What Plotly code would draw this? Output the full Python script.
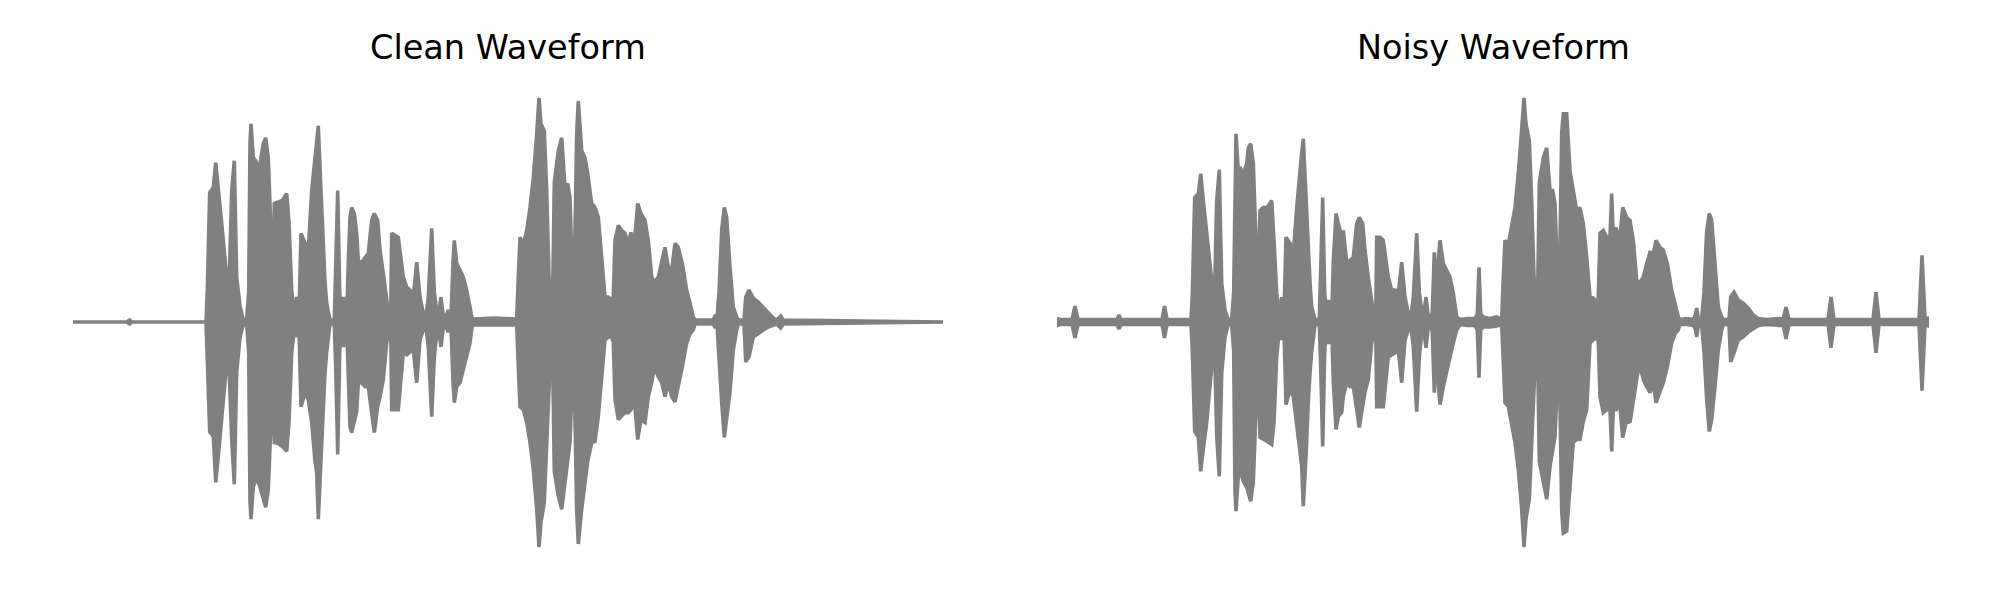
import plotly.graph_objects as go

# ---- Clean waveform envelope (time in frames, amplitude in arbitrary units) ----
clean_t = [0, 54, 56.5, 59, 133, 134.3, 136.7, 140.3, 142.7, 145.3, 148.7, 153.7, 155.3, 156.3, 158.7,
           161.3, 163.7, 167, 170.3, 173.7, 175.7, 177, 178, 180.3, 182.7, 184.7, 187, 190.3, 192.7,
           195.3, 198, 200, 201.3, 205.3, 209.3, 213.7, 216, 218.7, 221.3, 223.7, 226, 228, 232,
           235.3, 238.7, 242, 243.7, 245.3, 248, 250.3, 252, 253.7, 255.3, 257, 261.3, 262.7, 264.7,
           266.7, 268, 270.3, 273.7, 275.3, 277, 278.7, 281.3, 283.7, 285.3, 288.7, 292, 295.3, 298.7,
           301.3, 304.7, 307, 310.3, 313.7, 316, 317.7, 318.7, 322, 325.3, 330.3, 333.7, 337, 340.3,
           343.7, 347, 350.3, 352.7, 355.3, 358.7, 361.3, 363.7, 366, 368, 370.3, 372, 375.3, 378,
           380, 381.3, 383.7, 387, 390.3, 393.7, 397, 399.3, 422, 443.7, 445.3, 447, 450.3, 453.7,
           457, 460.3, 463.7, 466, 468, 471.3, 473.7, 476, 478, 479.3, 481.3, 483, 485.3, 488.7,
           492, 494.7, 497, 499.3, 501, 503.7, 505.3, 508.7, 512, 514.7, 518.7, 522, 525.3, 528.7,
           532, 535.3, 538.7, 540.3, 542, 545.3, 548.7, 552, 555.3, 558, 561.3, 564.7, 568, 572,
           575.3, 578.7, 581.3, 585.3, 588.7, 592, 595.3, 598.7, 602, 605.3, 609.3, 613.7, 617,
           620.3, 622, 640.3, 642.3, 644, 646, 648.7, 651.3, 653.7, 657, 660.3, 663.7, 665.3, 671,
           672.7, 676, 680.3, 685.3, 690.3, 695.3, 700.3, 703.7, 707.7, 710.3, 870]
clean_up = [0, 0, 2, 0, 0, 32, 130, 135, 160, 129, 99, 45, 22, 45, 132,
            162, 45, 16, 2, 3, 30, 180, 199, 165, 162, 155, 159, 179, 185,
            165, 92, 32, 119, 121, 122, 129, 100, 32, 7, 25, 8, 89, 79,
            72, 132, 165, 180, 197, 132, 65, 40, 19, 8, 2, 2, 45, 132,
            30, 10, 25, 5, 60, 105, 115, 109, 89, 62, 60, 65, 69, 102,
            109, 102, 72, 49, 19, 5, 5, 89, 87, 85, 45, 35, 32, 25,
            60, 25, 9, 3, 25, 94, 30, 12, 10, 25, 5, 3, 12, 5,
            60, 82, 59, 52, 45, 32, 15, 3, 4, 3, 45, 85, 78, 92,
            115, 145, 189, 225, 199, 192, 132, 45, 10, 5, 140, 155, 172, 185,
            135, 139, 125, 50, 35, 190, 222, 172, 165, 149, 119, 115, 105, 65,
            25, 25, 22, 25, 82, 97, 92, 89, 79, 90, 79, 119, 109, 102,
            82, 45, 40, 45, 59, 75, 55, 52, 79, 75, 59, 32, 19,
            5, 2, 2, 7, 3, 30, 92, 115, 105, 55, 15, 5, 2, 2,
            25, 32, 24, 20, 15, 9, 4, 2, 6, 2, 0]
clean_down = [0, 0, 2, 0, 0, 35, 110, 115, 161, 135, 101, 41, 25, 40, 118,
              163, 50, 16, 2, 3, 30, 180, 198, 165, 160, 158, 168, 178, 186,
              168, 101, 40, 121, 122, 125, 130, 100, 31, 7, 15, 8, 85, 71,
              78, 101, 140, 151, 198, 135, 85, 51, 30, 15, 2, 2, 45, 133,
              30, 10, 25, 5, 60, 105, 111, 100, 90, 61, 61, 65, 65, 88,
              111, 85, 75, 58, 21, 8, 5, 88, 88, 88, 31, 33, 30, 28,
              61, 18, 8, 3, 25, 95, 35, 12, 10, 25, 5, 3, 10, 5,
              60, 81, 65, 61, 48, 35, 21, 3, 3, 3, 45, 85, 88, 101,
              121, 148, 188, 226, 201, 181, 135, 68, 20, 15, 150, 158, 175, 188,
              155, 140, 121, 60, 40, 190, 223, 188, 161, 140, 121, 120, 95, 61,
              18, 15, 15, 20, 78, 98, 95, 91, 91, 88, 78, 118, 98, 101,
              75, 61, 45, 55, 61, 75, 61, 75, 80, 65, 45, 21, 12,
              8, 2, 2, 6, 3, 30, 81, 116, 100, 70, 28, 8, 2, 2,
              40, 35, 15, 12, 8, 5, 3, 2, 6, 2, 0]

# ---- Noisy waveform envelope ----
noisy_t = [0, 3, 15, 18, 21, 60, 62, 64, 105, 107.5, 110, 134, 135.3, 137.7, 141.3, 143.7, 146.3,
           149.7, 154.7, 156.3, 157.7, 159.7, 162.3, 164.7, 168, 171.3, 174.7, 176.7, 178, 179,
           181.3, 183.7, 186.3, 189.7, 191.3, 193.7, 196.3, 199, 201, 203, 206.3, 210.3, 214.7, 217,
           219.7, 222.3, 224.7, 227, 229, 233, 236.3, 239.7, 243, 244.7, 246.3, 249, 251.3, 253,
           254.7, 256.3, 258, 262.3, 263.7, 265.7, 267.7, 269, 271.3, 274.7, 276.3, 279, 281.3,
           284.7, 286.3, 289.7, 293, 296.3, 299.7, 302.3, 305.7, 308, 311.3, 314.7, 317, 318.7,
           319.7, 323, 326.3, 331.3, 334.7, 338, 341.3, 344.7, 348, 351.3, 353.7, 356.3, 359.7,
           362.3, 364.7, 367, 369, 371.3, 373.7, 375.3, 377.3, 379, 381, 383, 386.3, 389.7, 393,
           396.3, 399.7, 403, 409.7, 418, 420.3, 422, 423.7, 426.3, 433, 439.7, 444.7, 446.3, 448,
           451.3, 454.7, 458, 461.3, 464.7, 467, 469, 472.3, 474.7, 477, 479, 480.3, 482.3, 484,
           486.3, 489.7, 493, 495.7, 498, 500.3, 502.3, 504.7, 506.3, 509.7, 511.3, 513, 516.3,
           519.7, 523, 526.3, 529.7, 533, 536.3, 539.7, 541.3, 543, 546.3, 549.7, 553, 554.7,
           556.3, 559, 562.3, 565.7, 569.7, 573, 576.3, 579.7, 582.3, 586.3, 589.7, 593, 596.3,
           599, 603, 606.3, 610.3, 614.7, 618, 621.3, 623, 629.7, 636.3, 638.3, 639.7, 641.3,
           644.7, 647, 649.7, 652.3, 654.7, 658, 661.3, 664.7, 666.3, 672, 673.7, 677, 681.3,
           686.3, 691.3, 696.3, 701.3, 709.7, 723, 726, 729, 732, 771, 774, 777, 816, 819, 822,
           862, 865, 868, 872]
noisy_up = [3.5, 2.5, 2.5, 16, 2.5, 2.5, 7, 2.5, 2.5, 16, 2.5, 2.5, 27, 125, 129, 149, 122,
            92, 42, 22, 32, 122, 153, 39, 12, 2.5, 2.5, 30, 170, 189,
            152, 154, 149, 159, 175, 179, 159, 89, 25, 112, 115, 115, 122, 82,
            29, 5, 25, 8, 85, 79, 69, 115, 155, 170, 184, 125, 59, 40,
            15, 8, 2.5, 2.5, 45, 125, 30, 10, 22, 3.5, 60, 109, 99,
            85, 92, 60, 62, 65, 99, 105, 99, 72, 45, 19, 5, 3.5,
            85, 85, 82, 45, 32, 32, 29, 60, 25, 9, 2.5, 25, 89,
            30, 12, 10, 25, 5, 3.5, 10, 70, 8, 60, 82, 59, 52, 45,
            29, 5, 2.5, 3.5, 3.5, 8, 55, 8, 5, 3.5, 5, 2.5, 45, 82,
            78, 99, 115, 149, 189, 225, 199, 182, 122, 45, 10, 5, 140, 149,
            165, 175, 132, 132, 119, 50, 35, 190, 209, 209, 182, 152, 132,
            112, 115, 99, 65, 25, 24, 19, 25, 89, 92, 85, 85, 129,
            85, 95, 79, 115, 105, 102, 82, 42, 39, 45, 59, 70, 69,
            82, 75, 72, 59, 32, 19, 5, 2.5, 3.5, 2.5, 7, 14, 4,
            3.5, 30, 92, 109, 102, 52, 15, 5, 2.5, 2.5, 25, 30, 22,
            19, 14, 7, 3.5, 2.5, 3.5, 2.5, 15, 2.5, 2.5, 25, 2.5, 2.5, 30, 2.5,
            2.5, 67, 3.5, 4]
noisy_down = [3.5, 2.5, 2.5, 16, 2.5, 2.5, 7, 2.5, 2.5, 16, 2.5, 2.5, 28, 110, 116, 150, 128,
              101, 45, 25, 30, 115, 155, 51, 15, 2.5, 2.5, 30, 170, 190,
              155, 151, 160, 166, 171, 180, 161, 95, 35, 116, 118, 120, 123, 101,
              35, 8, 18, 8, 83, 68, 75, 101, 130, 145, 185, 135, 80, 51,
              30, 15, 2.5, 2.5, 45, 125, 30, 10, 22, 3.5, 60, 108, 95,
              91, 75, 61, 65, 65, 88, 106, 85, 70, 58, 21, 8, 3.5,
              85, 85, 85, 35, 33, 31, 28, 61, 18, 8, 2.5, 25, 90,
              35, 12, 10, 26, 5, 3.5, 10, 71, 8, 60, 83, 65, 51, 35,
              21, 8, 2.5, 3.5, 3.5, 8, 56, 8, 5, 5, 4, 2.5, 45, 81,
              85, 101, 121, 148, 188, 226, 198, 178, 131, 68, 20, 10, 140, 148,
              160, 178, 145, 131, 115, 60, 40, 190, 212, 210, 180, 161, 121,
              118, 118, 100, 88, 21, 18, 15, 20, 75, 91, 88, 88, 130,
              88, 88, 78, 116, 98, 101, 75, 58, 41, 58, 65, 71, 61,
              81, 71, 61, 45, 21, 12, 8, 2.5, 2.5, 3.5, 7, 15, 4,
              3.5, 30, 78, 110, 98, 65, 28, 8, 2.5, 2.5, 40, 31, 18,
              15, 10, 7, 3.5, 2.5, 3.5, 2.5, 17, 2.5, 2.5, 26, 2.5, 2.5, 31, 2.5,
              2.5, 69, 3.5, 4]

titles = ["Clean Waveform", "Noisy Waveform"]
wave_color = "#808080"


def envelope_polygon(t, up, down):
    xs = list(t) + list(t)[::-1] + [t[0]]
    ys = list(up) + [-d for d in down][::-1] + [up[0]]
    return xs, ys


fig = go.Figure()

for i, (t, up, down) in enumerate([(clean_t, clean_up, clean_down),
                                   (noisy_t, noisy_up, noisy_down)]):
    xs, ys = envelope_polygon(t, up, down)
    suffix = "" if i == 0 else "2"
    fig.add_trace(go.Scatter(
        x=xs, y=ys, mode="lines", fill="toself",
        fillcolor=wave_color,
        line=dict(color=wave_color, width=3.6),
        xaxis="x" + suffix, yaxis="y" + suffix,
        showlegend=False, hoverinfo="skip",
    ))

# page body has an 8px margin; size the figure so it sits in the 2000x600 window
OFF = 8
W, H = 2000 - OFF, 600 - OFF


def xdom(a, b):
    return [(a - OFF) / W, (b - OFF) / W]


def ypaper(py):
    return 1 - (py - OFF) / H


dom_clean = xdom(73, 943)
dom_noisy = xdom(1057, 1929)
ydom = [ypaper(548), ypaper(96)]
axis_common = dict(visible=False, showgrid=False, zeroline=False, fixedrange=True)

fig.update_layout(
    width=W, height=H,
    margin=dict(l=0, r=0, t=0, b=0),
    paper_bgcolor="white", plot_bgcolor="white",
    xaxis=dict(domain=dom_clean, range=[0, 870], **axis_common),
    xaxis2=dict(domain=dom_noisy, range=[0, 872], **axis_common),
    yaxis=dict(domain=ydom, range=[-227, 227], anchor="x", **axis_common),
    yaxis2=dict(domain=ydom, range=[-227, 227], anchor="x2", **axis_common),
    showlegend=False,
)

for title, dom in zip(titles, [dom_clean, dom_noisy]):
    fig.add_annotation(
        text=title, x=(dom[0] + dom[1]) / 2, y=ypaper(47),
        xref="paper", yref="paper", xanchor="center", yanchor="middle",
        showarrow=False,
        font=dict(family="DejaVu Sans", size=33.5, color="black"),
    )

fig.write_html("out.html")
